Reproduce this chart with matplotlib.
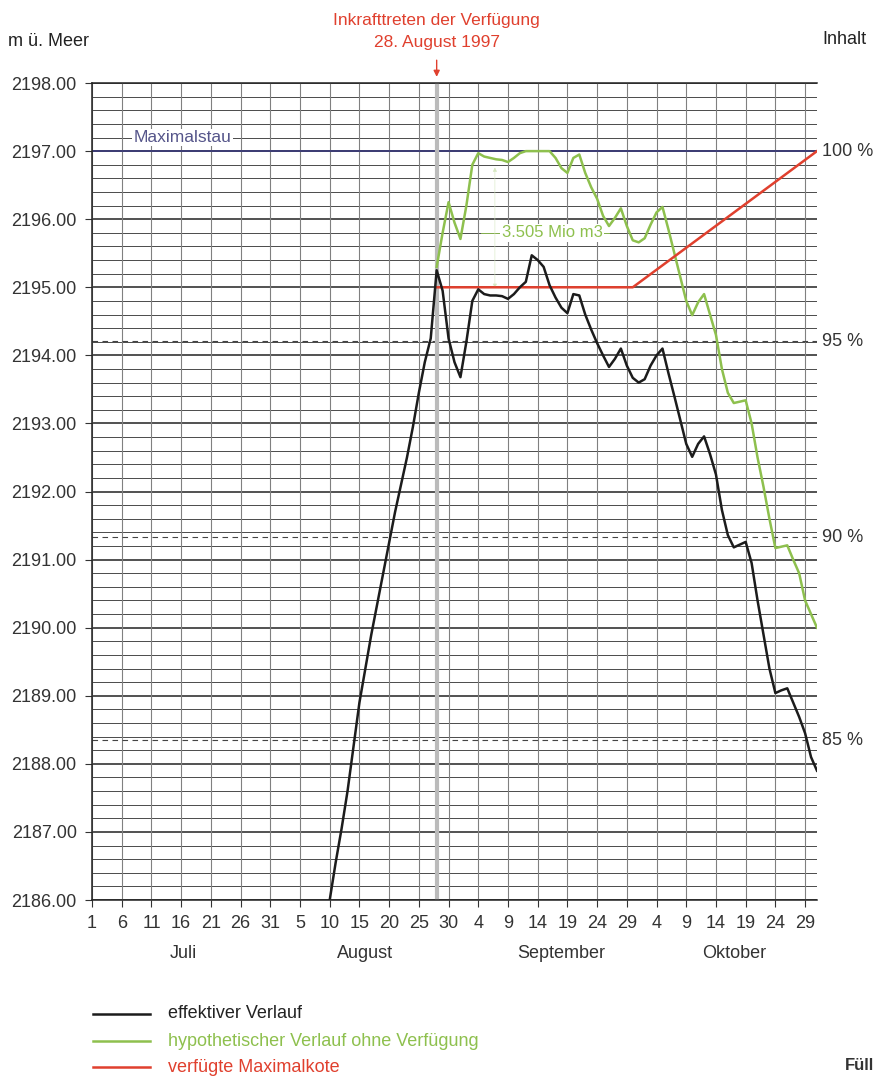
import numpy as np
import matplotlib.pyplot as plt
from matplotlib.lines import Line2D
from matplotlib.transforms import blended_transform_factory

plt.rcParams['font.family'] = ['Liberation Sans Narrow', 'Liberation Sans', 'DejaVu Sans']

# Tage ab 1. Juli (Index 0 = 1. Juli)
tick_days = [0, 5, 10, 15, 20, 25, 30, 35, 40, 45, 50, 55, 60, 65, 70, 75, 80, 85, 90, 95, 100, 105, 110, 115, 120]
tick_labels = ['1', '6', '11', '16', '21', '26', '31', '5', '10', '15', '20', '25', '30',
               '4', '9', '14', '19', '24', '29', '4', '9', '14', '19', '24', '29']
months = ['Juli', 'August', 'September', 'Oktober']
month_pos = [15.3, 46, 79, 108]

# effektiver Verlauf, ab 10. August (Index 40), taeglich
eff_start = 40
eff_level = [2186.0, 2186.55, 2187.05, 2187.6, 2188.25, 2188.9, 2189.4, 2189.9, 2190.35, 2190.8,
             2191.25, 2191.7, 2192.1, 2192.5, 2192.95, 2193.45, 2193.9, 2194.25, 2195.25, 2194.95,
             2194.25, 2193.9, 2193.68, 2194.2, 2194.8, 2194.97, 2194.9, 2194.88, 2194.88, 2194.87,
             2194.83, 2194.9, 2195.0, 2195.08, 2195.47, 2195.4, 2195.3, 2195.03, 2194.85, 2194.7,
             2194.62, 2194.9, 2194.88, 2194.6, 2194.38, 2194.18, 2194.0, 2193.83, 2193.95, 2194.1,
             2193.85, 2193.67, 2193.6, 2193.65, 2193.85, 2194.0, 2194.1, 2193.74, 2193.4, 2193.05,
             2192.7, 2192.51, 2192.7, 2192.81, 2192.55, 2192.25, 2191.73, 2191.36, 2191.18, 2191.22,
             2191.26, 2190.95, 2190.4, 2189.9, 2189.4, 2189.04, 2189.08, 2189.11, 2188.9, 2188.69,
             2188.45, 2188.1, 2187.9]

# hypothetischer Verlauf ohne Verfuegung, ab 28. August (Index 58)
hyp_start = 58
hyp_level = [2195.3, 2195.8, 2196.25, 2195.95, 2195.71, 2196.2, 2196.8, 2196.97, 2196.92, 2196.9,
             2196.88, 2196.87, 2196.84, 2196.9, 2196.97, 2197.0, 2197.0, 2197.0, 2197.0, 2197.0,
             2196.9, 2196.75, 2196.68, 2196.9, 2196.95, 2196.68, 2196.47, 2196.3, 2196.05, 2195.9,
             2196.02, 2196.16, 2195.9, 2195.69, 2195.66, 2195.72, 2195.92, 2196.1, 2196.18, 2195.85,
             2195.5, 2195.15, 2194.8, 2194.59, 2194.78, 2194.9, 2194.6, 2194.3, 2193.8, 2193.45,
             2193.3, 2193.32, 2193.34, 2193.0, 2192.5, 2192.07, 2191.6, 2191.17, 2191.19, 2191.21,
             2191.0, 2190.8, 2190.4, 2190.2, 2190.0]

# verfuegte Maximalkote
kote_days = [58, 91, 122]
kote_level = [2195.0, 2195.0, 2197.0]

# Inhalt (Fuellungsgrad)
pct_labels = ['100 %', '95 %', '90 %', '85 %']
pct_level = [2197.0, 2194.21, 2191.33, 2188.35]

max_stau = 2197.0
day_verf = 58

black = '#1c1c1c'
green = '#8ec04e'
red = '#e0402e'
navy = '#3b3b78'

fig = plt.figure(figsize=(8.78, 10.77), dpi=100)
ax = fig.add_axes([0.1048, 0.1643, 0.8257, 0.7586])
ax.set_xlim(0, 122)
ax.set_ylim(2186, 2198)

# Raster
for y in np.arange(2186, 2198.01, 0.2):
    major = abs(y - round(y)) < 1e-6
    ax.axhline(y, color='#222222' if major else '#4a4a4a', lw=1.1 if major else 0.7, zorder=1)
for d in tick_days:
    ax.axvline(d, color='#808080', lw=0.8, zorder=1)
for lv in pct_level[1:]:
    ax.axhline(lv, color='#444444', lw=0.8, ls=(0, (5, 4)), zorder=1)
ax.axhline(max_stau, color=navy, lw=1.3, zorder=2)
ax.axvline(day_verf, color='#bbbbbb', lw=3, zorder=2)

ax.text(15.2, max_stau + 0.2, 'Maximalstau', color='#55558a', fontsize=12.5, ha='center', va='center',
        bbox=dict(facecolor='white', edgecolor='none', pad=1), zorder=3)

ax.plot(np.arange(hyp_start, hyp_start + len(hyp_level)), hyp_level, color=green, lw=1.8, zorder=4)
ax.plot(np.arange(eff_start, eff_start + len(eff_level)), eff_level, color=black, lw=1.8, zorder=5)
ax.plot(kote_days, kote_level, color=red, lw=1.8, zorder=4)

# Differenz 3.505 Mio m3
ax.plot([65.5, 87], [2195.8, 2195.8], color=green, lw=0.6, zorder=3)
ax.annotate('', xy=(67.8, 2196.8), xytext=(67.8, 2194.95),
            arrowprops=dict(arrowstyle='<|-|>', color='#d6e8c0', lw=0.4, mutation_scale=6), zorder=3)
ax.text(77.4, 2195.8, '3.505 Mio m3', color=green, fontsize=12, ha='center', va='center',
        bbox=dict(facecolor='white', edgecolor='none', pad=1), zorder=6)

# Achsen
ax.set_yticks(np.arange(2186, 2198.01, 1))
ax.set_yticklabels(['%.2f' % v for v in np.arange(2186, 2198.01, 1)], fontsize=13, color='#333333')
ax.set_xticks(tick_days)
ax.set_xticklabels(tick_labels, fontsize=13, color='#333333')
ax.tick_params(axis='both', length=5, width=0.8, color='#333333', pad=6)
ax.spines['right'].set_visible(False)
for s in ['left', 'top', 'bottom']:
    ax.spines[s].set_color('#222222')
    ax.spines[s].set_linewidth(1.1)

tr = blended_transform_factory(ax.transData, fig.transFigure)
for m, p in zip(months, month_pos):
    ax.text(p, 1 - 953 / 1077, m, transform=tr, fontsize=13, color='#333333', ha='center', va='center')

tr2 = blended_transform_factory(fig.transFigure, ax.transData)
for lab, lv in zip(pct_labels, pct_level):
    ax.text(822 / 878, lv, lab, transform=tr2, fontsize=13, color='#333333', ha='left', va='center')

fig.text(8 / 878, 1 - 42 / 1077, 'm ü. Meer', fontsize=13, color='#222222', va='center')
fig.text(822 / 878, 1 - 40 / 1077, 'Inhalt', fontsize=13, color='#222222', va='center')

xc = (92 + 58 * 725 / 122) / 878
fig.text(xc, 1 - 20 / 1077, 'Inkrafttreten der Verfügung', fontsize=12.5, color=red, ha='center', va='center')
fig.text(xc, 1 - 42 / 1077, '28. August 1997', fontsize=12.5, color=red, ha='center', va='center')
ax.annotate('', xy=(day_verf, 2198.05), xytext=(0, 16), textcoords='offset points',
            arrowprops=dict(arrowstyle='-|>', color=red, lw=1.0, mutation_scale=9),
            annotation_clip=False)

# Legende
for y, c, t in [(1014, black, 'effektiver Verlauf'),
                (1041, green, 'hypothetischer Verlauf ohne Verfügung'),
                (1067, red, 'verfügte Maximalkote')]:
    yy = 1 - y / 1077
    fig.add_artist(Line2D([93 / 878, 150 / 878], [yy, yy], color=c, lw=1.8))
    fig.text(168 / 878, yy, t, color='#222222' if c == black else c, fontsize=13, va='center')

fig.text(874 / 878, 1 - 1066 / 1077, 'Füll', fontsize=12, fontweight='bold', color='#333333',
         ha='right', va='center')

fig.savefig('out.png', dpi=100)
